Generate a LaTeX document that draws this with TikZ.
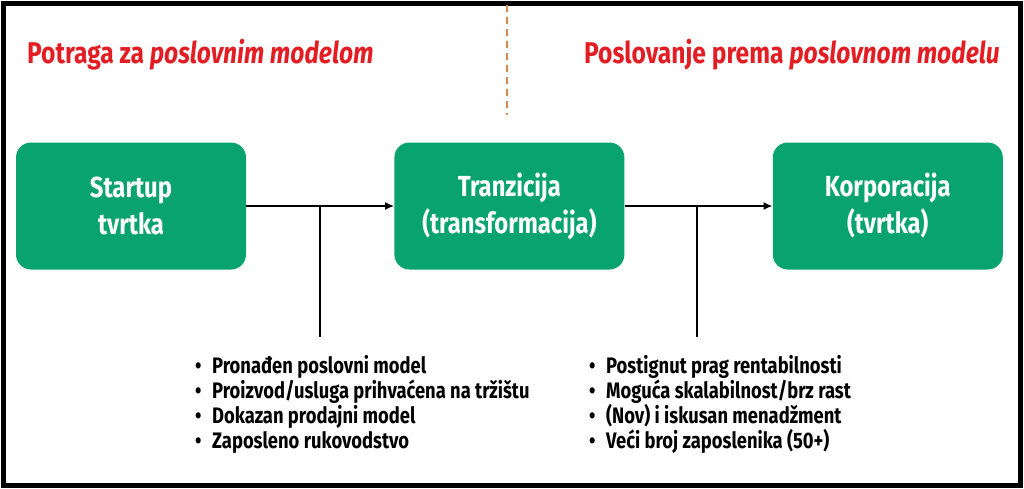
\documentclass[tikz,border=0pt]{standalone}
\usepackage{fontspec}
\setmainfont{Fira Sans}[FakeStretch=0.82]
\usetikzlibrary{arrows.meta, positioning}
\definecolor{my_green}{RGB}{8, 163, 110}
\definecolor{my_red}{RGB}{226, 30, 36}
\definecolor{my_orange}{RGB}{214, 140, 80}
\newcommand{\blt}{\makebox[17pt][l]{\textbullet}}
\tikzset {
  phase/.style = {fill=my_green, rounded corners=15pt, rectangle, minimum width=230pt, minimum height=127pt, text=white, align=center, font=\bfseries\fontsize{29}{37}\selectfont},
  title/.style = {text=my_red, inner sep=0pt, font=\bfseries\fontsize{30}{36}\selectfont},
  list/.style = {align=left, inner sep=0pt, anchor=north west, font=\bfseries\fontsize{22.4}{25}\selectfont},
  line/.style = {line width=2.8pt, color=black},
  flow/.style = {line, -{Latex[length=9pt, width=8pt]}},
  split/.style = {line width=2pt, color=my_orange, dash pattern=on 7pt off 5pt}
}

\begin{document}
\begin{tikzpicture}[x=1pt, y=-1pt, node distance=148pt]
  \useasboundingbox (0,0) rectangle (1024,488);
  \draw[line width=5pt] (3,3) rectangle (1020,485);

  % phases
  \node[phase] (startup) at (131,206) {Startup\\tvrtka};
  \node[phase, right=of startup] (tranz) {Tranzicija\\(transformacija)};
  \node[phase, right=of tranz] (korp) {Korporacija\\(tvrtka)};

  \draw[flow] (startup) -- (tranz);
  \draw[flow] (tranz) -- (korp);

  % titles
  \node[title, anchor=base west] (search) at (27,63) {Potraga za \textit{poslovnim modelom}};
  \node[title, anchor=base east] (execute) at (1000,63) {Poslovanje prema \textit{poslovnom modelu}};
  \coordinate (stop) at (507,5);
  \coordinate (sbot) at (507,115);
  \draw[split] (stop) -- (sbot);

  % outcomes
  \coordinate (j1) at (320,206);
  \coordinate (e1) at (320,337);
  \coordinate (j2) at (697,206);
  \coordinate (e2) at (697,337);
  \draw[line] (j1) -- (e1);
  \draw[line] (j2) -- (e2);

  \node[list] (found) at (195,355) {\blt Pronađen poslovni model\\
    \blt Proizvod/usluga prihvaćena na tržištu\\
    \blt Dokazan prodajni model\\
    \blt Zaposleno rukovodstvo};
  \node[list] (reached) at (589,355) {\blt Postignut prag rentabilnosti\\
    \blt Moguća skalabilnost/brz rast\\
    \blt (Nov) i iskusan menadžment\\
    \blt Veći broj zaposlenika (50+)};
\end{tikzpicture}
\end{document}
